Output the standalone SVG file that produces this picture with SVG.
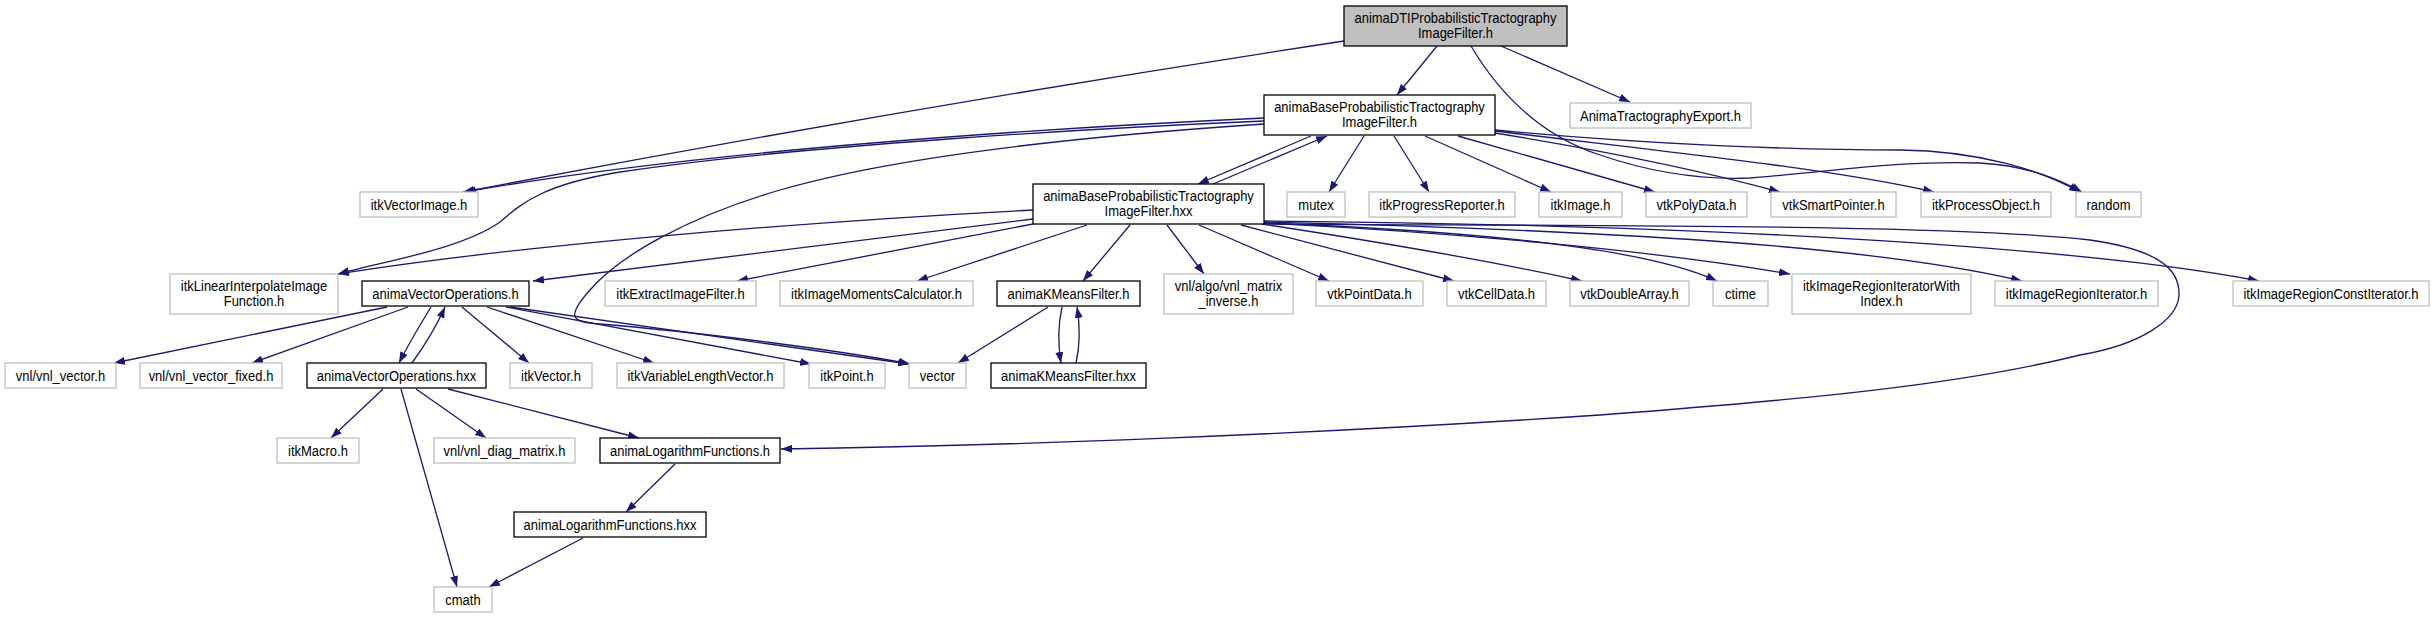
<svg xmlns="http://www.w3.org/2000/svg" width="2435" height="619" viewBox="0 0 2435 619">
<defs>
<marker id="a" markerWidth="11" markerHeight="8" refX="11" refY="4" orient="auto" markerUnits="userSpaceOnUse"><path d="M0,0 L11,4 L0,8 z" fill="#191970"/></marker>
<style>
rect{fill:#fff;stroke:#bfbfbf;stroke-width:1.3}
.d rect{stroke:#000}
.r rect{fill:#bfbfbf;stroke:#000}
text{font-family:"Liberation Sans",Arial,sans-serif;font-size:14.5px;text-anchor:middle;fill:#000;transform-box:fill-box;transform-origin:center;transform:scaleX(0.895)}
#edges path{fill:none;stroke:#191970;stroke-width:1.3;marker-end:url(#a)}
</style>
</defs>
<rect x="0" y="0" width="2435" height="619" style="fill:#fff;stroke:none"/>
<g id="edges">
<path d="M1437,46 L1397,95"/>
<path d="M1344,41 C1100,78 800,128 463,192"/>
<path d="M1501,46 L1630,102"/>
<path d="M1471,46 C1500,95 1540,135 1600,155 C1650,172 1700,180 1750,178 C1830,172 1900,160 1980,163 C2030,166 2060,180 2082,192"/>
<path d="M1495,130 C1650,145 1800,150 1900,150 C1980,151 2040,170 2080,192"/>
<path d="M1495,131 C1650,150 1830,168 1934,192"/>
<path d="M1495,133 C1600,150 1700,170 1780,192"/>
<path d="M1458,136 L1655,192"/>
<path d="M1425,136 L1551,192"/>
<path d="M1394,136 L1429,192"/>
<path d="M1364,136 L1329,192"/>
<path d="M1311,136 L1198,184"/>
<path d="M1213,184 L1327,136"/>
<path d="M1264,118 C1050,128 700,150 465,192"/>
<path d="M1264,121 C1100,128 800,145 620,172 C540,185 520,205 500,222 C460,250 380,262 338,274"/>
<path d="M1264,124 C1100,135 900,155 780,190 C690,216 620,255 590,290 C565,318 572,322 600,324 C700,332 850,352 910,364"/>
<path d="M1033,210 C800,222 520,245 338,274"/>
<path d="M1033,219 L533,281"/>
<path d="M1033,224 L737,281"/>
<path d="M1087,225 L917,281"/>
<path d="M1130,225 L1083,281"/>
<path d="M1167,225 L1204,274"/>
<path d="M1199,225 L1329,281"/>
<path d="M1241,225 L1454,281"/>
<path d="M1262,224 C1400,245 1500,263 1582,281"/>
<path d="M1264,223 C1450,230 1640,245 1717,281"/>
<path d="M1264,223 C1450,232 1650,250 1790,274"/>
<path d="M1264,222 C1600,230 1870,245 2022,281"/>
<path d="M1264,221 C1750,225 2100,250 2259,281"/>
<path d="M1264,224 C1600,226 1950,224 2090,240 C2160,250 2180,270 2179,295 C2178,320 2140,345 2080,355 C1960,385 1800,400 1600,415 C1300,435 1000,446 781,449"/>
<path d="M387,307 L114,363"/>
<path d="M408,307 L252,363"/>
<path d="M431,307 C420,325 408,345 399,363"/>
<path d="M412,363 C425,345 437,325 445,307"/>
<path d="M462,307 L529,363"/>
<path d="M487,307 L654,363"/>
<path d="M506,307 L811,364"/>
<path d="M510,307 L909,364"/>
<path d="M383,389 L331,438"/>
<path d="M401,389 L457,587"/>
<path d="M416,389 L486,438"/>
<path d="M448,389 L639,438"/>
<path d="M675,464 L626,512"/>
<path d="M583,538 L489,587"/>
<path d="M1048,307 L958,363"/>
<path d="M1062,307 C1058,325 1058,345 1061,363"/>
<path d="M1076,363 C1080,345 1080,325 1077,307"/>
</g>
<g id="n_dti" class="r"><rect x="1344" y="6" width="223" height="40"/><text x="1455.5" y="23">animaDTIProbabilisticTractography</text><text x="1455.5" y="38">ImageFilter.h</text></g>
<g id="n_base_h" class="d"><rect x="1264" y="95" width="231" height="40"/><text x="1379.5" y="112">animaBaseProbabilisticTractography</text><text x="1379.5" y="127">ImageFilter.h</text></g>
<g id="n_export"><rect x="1570" y="103" width="181" height="25"/><text x="1660.5" y="121">AnimaTractographyExport.h</text></g>
<g id="n_itkvectorimage"><rect x="360" y="192" width="118" height="25"/><text x="419" y="210">itkVectorImage.h</text></g>
<g id="n_base_hxx" class="d"><rect x="1033" y="184" width="231" height="40"/><text x="1148.5" y="201">animaBaseProbabilisticTractography</text><text x="1148.5" y="216">ImageFilter.hxx</text></g>
<g id="n_mutex"><rect x="1287" y="192" width="58" height="25"/><text x="1316" y="210">mutex</text></g>
<g id="n_progress"><rect x="1369" y="192" width="146" height="25"/><text x="1442" y="210">itkProgressReporter.h</text></g>
<g id="n_itkimage"><rect x="1539" y="192" width="83" height="25"/><text x="1580.5" y="210">itkImage.h</text></g>
<g id="n_polydata"><rect x="1646" y="192" width="101" height="25"/><text x="1696.5" y="210">vtkPolyData.h</text></g>
<g id="n_smartptr"><rect x="1771" y="192" width="125" height="25"/><text x="1833.5" y="210">vtkSmartPointer.h</text></g>
<g id="n_processobj"><rect x="1921" y="192" width="130" height="25"/><text x="1986" y="210">itkProcessObject.h</text></g>
<g id="n_random"><rect x="2076" y="192" width="65" height="25"/><text x="2108.5" y="210">random</text></g>
<g id="n_linterp"><rect x="170" y="274" width="168" height="40"/><text x="254" y="291">itkLinearInterpolateImage</text><text x="254" y="306">Function.h</text></g>
<g id="n_vecops_h" class="d"><rect x="362" y="281" width="167" height="25"/><text x="445.5" y="299">animaVectorOperations.h</text></g>
<g id="n_extract"><rect x="605" y="281" width="151" height="25"/><text x="680.5" y="299">itkExtractImageFilter.h</text></g>
<g id="n_moments"><rect x="780" y="281" width="193" height="25"/><text x="876.5" y="299">itkImageMomentsCalculator.h</text></g>
<g id="n_kmeans_h" class="d"><rect x="997" y="281" width="143" height="25"/><text x="1068.5" y="299">animaKMeansFilter.h</text></g>
<g id="n_matinv"><rect x="1164" y="274" width="129" height="40"/><text x="1228.5" y="291">vnl/algo/vnl_matrix</text><text x="1228.5" y="306">_inverse.h</text></g>
<g id="n_pointdata"><rect x="1316" y="281" width="107" height="25"/><text x="1369.5" y="299">vtkPointData.h</text></g>
<g id="n_celldata"><rect x="1447" y="281" width="99" height="25"/><text x="1496.5" y="299">vtkCellData.h</text></g>
<g id="n_doublearray"><rect x="1570" y="281" width="119" height="25"/><text x="1629.5" y="299">vtkDoubleArray.h</text></g>
<g id="n_ctime"><rect x="1713" y="281" width="55" height="25"/><text x="1740.5" y="299">ctime</text></g>
<g id="n_iriwi"><rect x="1792" y="274" width="179" height="40"/><text x="1881.5" y="291">itkImageRegionIteratorWith</text><text x="1881.5" y="306">Index.h</text></g>
<g id="n_iri"><rect x="1995" y="281" width="163" height="25"/><text x="2076.5" y="299">itkImageRegionIterator.h</text></g>
<g id="n_irci"><rect x="2233" y="281" width="196" height="25"/><text x="2331" y="299">itkImageRegionConstIterator.h</text></g>
<g id="n_vnlvector"><rect x="5" y="363" width="111" height="25"/><text x="60.5" y="381">vnl/vnl_vector.h</text></g>
<g id="n_vnlvecfixed"><rect x="140" y="363" width="142" height="25"/><text x="211" y="381">vnl/vnl_vector_fixed.h</text></g>
<g id="n_vecops_hxx" class="d"><rect x="307" y="363" width="179" height="25"/><text x="396.5" y="381">animaVectorOperations.hxx</text></g>
<g id="n_itkvector"><rect x="510" y="363" width="82" height="25"/><text x="551" y="381">itkVector.h</text></g>
<g id="n_varlen"><rect x="617" y="363" width="167" height="25"/><text x="700.5" y="381">itkVariableLengthVector.h</text></g>
<g id="n_itkpoint"><rect x="809" y="363" width="76" height="25"/><text x="847" y="381">itkPoint.h</text></g>
<g id="n_vector"><rect x="909" y="363" width="57" height="25"/><text x="937.5" y="381">vector</text></g>
<g id="n_kmeans_hxx" class="d"><rect x="991" y="363" width="155" height="25"/><text x="1068.5" y="381">animaKMeansFilter.hxx</text></g>
<g id="n_itkmacro"><rect x="277" y="438" width="82" height="25"/><text x="318" y="456">itkMacro.h</text></g>
<g id="n_diag"><rect x="434" y="438" width="141" height="25"/><text x="504.5" y="456">vnl/vnl_diag_matrix.h</text></g>
<g id="n_log_h" class="d"><rect x="600" y="438" width="180" height="25"/><text x="690" y="456">animaLogarithmFunctions.h</text></g>
<g id="n_log_hxx" class="d"><rect x="514" y="512" width="192" height="25"/><text x="610" y="530">animaLogarithmFunctions.hxx</text></g>
<g id="n_cmath"><rect x="434" y="587" width="58" height="25"/><text x="463" y="605">cmath</text></g>
</svg>
